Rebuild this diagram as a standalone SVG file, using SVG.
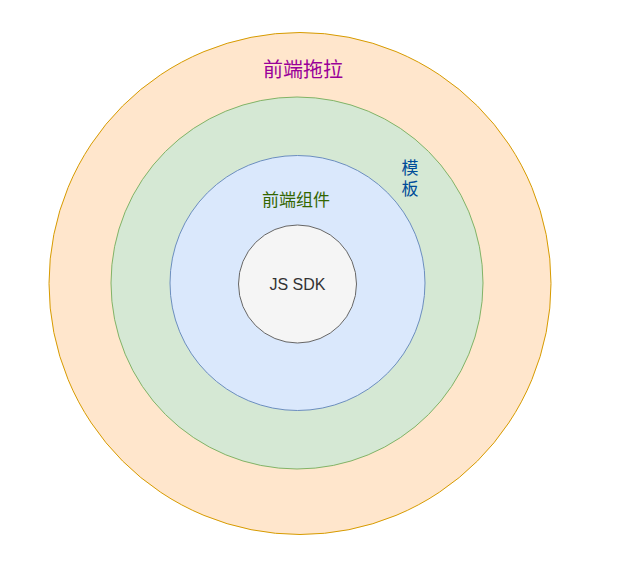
<svg xmlns="http://www.w3.org/2000/svg" width="617" height="575" viewBox="0 0 617 575">
<style>
text{font-family:"Noto Sans CJK SC","Liberation Sans",sans-serif;text-anchor:middle}
.c{stroke-width:1}
</style>
<rect width="617" height="575" fill="#ffffff"/>
<g id="outer">
<circle class="c" cx="300" cy="283.5" r="251" fill="#ffe6cc" stroke="#d79b00"/>
<text x="303" y="77" font-size="20" fill="#990099">前端拖拉</text>
</g>
<g id="template">
<circle class="c" cx="297" cy="283" r="186" fill="#d5e8d4" stroke="#82b366"/>
<text x="410" y="159" font-size="17" fill="#004c99" writing-mode="vertical-rl" style="text-anchor:start" letter-spacing="4">模板</text>
</g>
<g id="components">
<circle class="c" cx="297.5" cy="283" r="127.5" fill="#dae8fc" stroke="#6c8ebf"/>
<text x="296" y="206" font-size="17" fill="#336600">前端组件</text>
</g>
<g id="sdk">
<circle class="c" cx="297.5" cy="284" r="59" fill="#f5f5f5" stroke="#666666"/>
<text x="297.5" y="290" font-size="16" fill="#333333" style="font-family:'Liberation Sans',sans-serif">JS SDK</text>
</g>
<g id="connectors"/>
</svg>
